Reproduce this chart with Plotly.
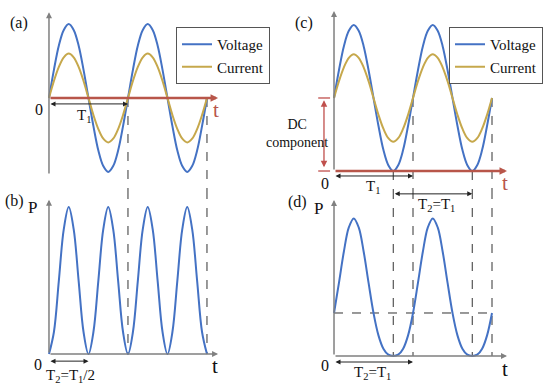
import plotly.graph_objects as go

# ---------------- data ----------------
# sample times in units of the voltage period T1 (every T1/16, two periods)
t_samples = [k / 16 for k in range(33)]

voltage_a = [0, 0.38, 0.71, 0.92, 1, 0.92, 0.71, 0.38, 0, -0.38, -0.71, -0.92, -1, -0.92, -0.71, -0.38,
             0, 0.38, 0.71, 0.92, 1, 0.92, 0.71, 0.38, 0, -0.38, -0.71, -0.92, -1, -0.92, -0.71, -0.38, 0]
current_a = [0, 0.23, 0.42, 0.55, 0.6, 0.55, 0.42, 0.23, 0, -0.23, -0.42, -0.55, -0.6, -0.55, -0.42, -0.23,
             0, 0.23, 0.42, 0.55, 0.6, 0.55, 0.42, 0.23, 0, -0.23, -0.42, -0.55, -0.6, -0.55, -0.42, -0.23, 0]
power_b = [0, 0.15, 0.5, 0.85, 1, 0.85, 0.5, 0.15, 0, 0.15, 0.5, 0.85, 1, 0.85, 0.5, 0.15,
           0, 0.15, 0.5, 0.85, 1, 0.85, 0.5, 0.15, 0, 0.15, 0.5, 0.85, 1, 0.85, 0.5, 0.15, 0]
voltage_c = [1, 1.38, 1.71, 1.92, 2, 1.92, 1.71, 1.38, 1, 0.62, 0.29, 0.08, 0, 0.08, 0.29, 0.62,
             1, 1.38, 1.71, 1.92, 2, 1.92, 1.71, 1.38, 1, 0.62, 0.29, 0.08, 0, 0.08, 0.29, 0.62, 1]
current_c = [1, 1.23, 1.42, 1.55, 1.6, 1.55, 1.42, 1.23, 1, 0.77, 0.58, 0.45, 0.4, 0.45, 0.58, 0.77,
             1, 1.23, 1.42, 1.55, 1.6, 1.55, 1.42, 1.23, 1, 0.77, 0.58, 0.45, 0.4, 0.45, 0.58, 0.77, 1]
power_d = [1, 1.70, 2.43, 2.99, 3.2, 2.99, 2.43, 1.70, 1, 0.48, 0.17, 0.03, 0, 0.03, 0.17, 0.48,
           1, 1.70, 2.43, 2.99, 3.2, 2.99, 2.43, 1.70, 1, 0.48, 0.17, 0.03, 0, 0.03, 0.17, 0.48, 1]

series_names = ["Voltage", "Current"]
panel_labels = ["(a)", "(b)", "(c)", "(d)"]

# ---------------- styles ----------------
BLUE = "#4472C4"
GOLD = "#C6A84C"
RED = "#B8564A"
GREY = "#808080"
DASH = "#333333"
FONT = "Liberation Serif, Times New Roman, serif"

fig = go.Figure()

def curve(y, xa, ya, name, color, legend, show):
    fig.add_trace(go.Scatter(
        x=t_samples, y=y, xaxis=xa, yaxis=ya, mode="lines", name=name,
        line=dict(color=color, width=2, shape="spline", smoothing=1),
        showlegend=show, legend=legend, hoverinfo="skip"))

curve(voltage_a, "x", "y", series_names[0], BLUE, "legend", True)
curve(current_a, "x", "y", series_names[1], GOLD, "legend", True)
curve(power_b, "x2", "y2", "P", BLUE, "legend", False)
curve(voltage_c, "x3", "y3", series_names[0], BLUE, "legend2", True)
curve(current_c, "x3", "y3", series_names[1], GOLD, "legend2", True)
curve(power_d, "x4", "y4", "P", BLUE, "legend", False)

ann = []
shapes = []

def arrow(xa, ya, x0, y0, x1, y1, color, width, both=False, head=2, size=0.8):
    ann.append(dict(x=x1, y=y1, ax=x0, ay=y0, xref=xa, yref=ya, axref=xa, ayref=ya,
                    text="", showarrow=True, arrowhead=head, startarrowhead=head,
                    arrowsize=size, startarrowsize=size, arrowwidth=width,
                    arrowcolor=color, arrowside="end+start" if both else "end",
                    standoff=0, startstandoff=0))

def label(xa, ya, x, y, text, size, color="#111111"):
    ann.append(dict(x=x, y=y, xref=xa, yref=ya, text=text, showarrow=False,
                    font=dict(family=FONT, size=size, color=color)))

def dline(xa, ya, x0, y0, x1, y1, color=DASH, width=1, dash="dash"):
    shapes.append(dict(type="line", xref=xa, yref=ya, x0=x0, y0=y0, x1=x1, y1=y1,
                       line=dict(color=color, width=width, dash=dash), layer="below"))

# axis ranges (data units)
XA = [-0.620, 2.861]
YA = [-1.243, 1.324]
YB = [-0.224, 1.116]
XC = [-0.747, 2.734]
YC = [-0.260, 2.342]
YD = [-0.721, 3.860]

# ---- panel (a)
arrow("x", "y", 0, -1.04, 0, 1.16, GREY, 1.5)
arrow("x", "y", 0, 0, 2.14, 0, RED, 2.5, size=0.6)
arrow("x", "y", 0, -0.08, 1, -0.08, "#222222", 1, both=True, size=1)
label("x", "y", -0.38, 1.02, panel_labels[0], 16)
label("x", "y", -0.13, -0.15, "0", 16)
label("x", "y", 2.11, -0.16, "t", 21, RED)
label("x", "y", 0.44, -0.24, "T<sub>1</sub>", 15)
for tv in [1, 2]:
    dline("x", "y", tv, 0, tv, YA[0])

# ---- panel (b)
arrow("x2", "y2", 0, 0, 0, 1.05, GREY, 1.5)
arrow("x2", "y2", 0, 0, 2.14, 0, GREY, 1.5)
arrow("x2", "y2", 0, -0.048, 0.5, -0.048, "#222222", 1, both=True, size=1)
label("x2", "y2", -0.44, 1.04, panel_labels[1], 16)
label("x2", "y2", -0.215, 1.0, "P", 17)
label("x2", "y2", -0.14, -0.07, "0", 16)
label("x2", "y2", 2.10, -0.08, "t", 21)
label("x2", "y2", 0.27, -0.15, "T<sub>2</sub>=T<sub>1</sub>/2", 15)
for tv in [1, 2]:
    dline("x2", "y2", tv, YB[1], tv, 0)

# ---- panel (c)
arrow("x3", "y3", 0, 0, 0, 2.19, GREY, 1.5)
arrow("x3", "y3", 0, 0, 2.19, 0, RED, 2.5, size=0.6)
arrow("x3", "y3", 0, -0.068, 1, -0.068, "#222222", 1, both=True, size=1)
arrow("x3", "y3", -0.127, 0.03, -0.127, 0.97, "#C0504D", 1.3, both=True, size=1)
dline("x3", "y3", -0.20, 1, -0.05, 1, "#C0504D", 1.3, "solid")
dline("x3", "y3", -0.20, 0, -0.05, 0, "#C0504D", 1.3, "solid")
label("x3", "y3", -0.38, 2.03, panel_labels[2], 16)
label("x3", "y3", -0.114, -0.165, "0", 16)
label("x3", "y3", 2.16, -0.17, "t", 21, RED)
label("x3", "y3", 0.49, -0.22, "T<sub>1</sub>", 15)
label("x3", "y3", -0.47, 0.52, "DC<br>component", 14)
for tv, v0 in [(0.75, 0), (1, 1), (1.75, 0), (2, 1)]:
    dline("x3", "y3", tv, v0, tv, YC[0])

# ---- panel (d)
arrow("x4", "y4", 0, 0, 0, 3.63, GREY, 1.5)
arrow("x4", "y4", 0, 0, 2.19, 0, GREY, 1.5)
arrow("x4", "y4", 0, -0.14, 1, -0.14, "#222222", 1, both=True, size=1)
arrow("x4", "y4", 0.75, 3.77, 1.75, 3.77, "#222222", 1, both=True, size=1)
label("x4", "y4", -0.456, 3.58, panel_labels[3], 16)
label("x4", "y4", -0.20, 3.44, "P", 17)
label("x4", "y4", -0.114, -0.21, "0", 16)
label("x4", "y4", 2.16, -0.30, "t", 21)
label("x4", "y4", 0.49, -0.40, "T<sub>2</sub>=T<sub>1</sub>", 15)
label("x4", "y4", 1.30, 3.50, "T<sub>2</sub>=T<sub>1</sub>", 15)
for tv in [0.75, 1, 1.75, 2]:
    dline("x4", "y4", tv, YD[1], tv, 0)
dline("x4", "y4", 0, 1, 2, 1)

Y_SPLIT = 1 - 190 / 387

def ax(domain, rng, anchor):
    return dict(domain=domain, range=rng, visible=False, anchor=anchor, fixedrange=True)

legend_style = dict(font=dict(family=FONT, size=15, color="#111111"), bgcolor="white",
                    bordercolor="#555555", borderwidth=1, xanchor="right", yanchor="top",
                    tracegroupgap=0, itemwidth=30)

fig.update_layout(
    width=550, height=387, margin=dict(l=0, r=0, t=0, b=0),
    paper_bgcolor="white", plot_bgcolor="white",
    font=dict(family=FONT),
    xaxis=ax([0, 0.5], XA, "y"), yaxis=ax([Y_SPLIT, 1], YA, "x"),
    xaxis2=ax([0, 0.5], XA, "y2"), yaxis2=ax([0, Y_SPLIT], YB, "x2"),
    xaxis3=ax([0.5, 1], XC, "y3"), yaxis3=ax([Y_SPLIT, 1], YC, "x3"),
    xaxis4=ax([0.5, 1], XC, "y4"), yaxis4=ax([0, Y_SPLIT], YD, "x4"),
    legend=dict(x=270 / 550, y=1 - 27 / 387, **legend_style),
    legend2=dict(x=543 / 550, y=1 - 27 / 387, **legend_style),
    annotations=ann, shapes=shapes,
)

fig.write_html("out.html", config={"displayModeBar": False},
               post_script="document.body.style.margin='0';")
